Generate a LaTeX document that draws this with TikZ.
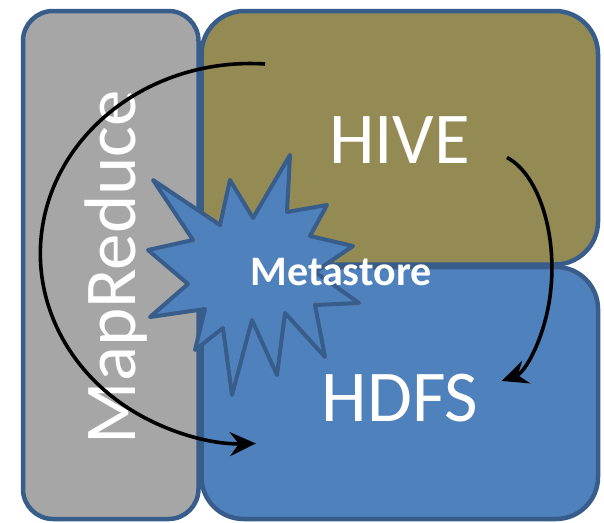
\documentclass[tikz,border=0pt]{standalone}
\usepackage{fontspec}
\setmainfont{Carlito}
\usetikzlibrary{arrows.meta}
\definecolor{mrgray}{HTML}{A6A6A6}
\definecolor{hiveolive}{HTML}{948A54}
\definecolor{hdfsblue}{HTML}{4F81BD}
\definecolor{edgeblue}{HTML}{385D8A}
\tikzset{
  panel/.style={draw=edgeblue, line width=4.5pt, inner sep=0pt, outer sep=0pt, rectangle},
  bigtext/.style={text=white, font=\fontsize{73}{73}\selectfont, inner sep=0pt, anchor=base},
  flow/.style={draw=black, line width=3.6pt, -{Stealth[length=26pt,width=24pt,inset=9pt]}},
}
\begin{document}
\begin{tikzpicture}[x=1pt,y=-1pt]
\useasboundingbox (0,0) rectangle (604,522);
% the three layers
\node[panel, fill=mrgray, rounded corners=30pt, minimum width=175.5pt, minimum height=508pt]
  (mr) at (110.75,265) {};
\node[panel, fill=hiveolive, rounded corners=43pt, minimum width=396.5pt, minimum height=253.5pt]
  (hive) at (399.75,137.75) {};
\node[panel, fill=hdfsblue, rounded corners=42pt, minimum width=396.5pt, minimum height=252pt]
  (hdfs) at (399.75,393) {};
% layer labels
\node[bigtext] (hivelbl) at (399.5,163) {HIVE};
\node[bigtext] (hdfslbl) at (400,421) {HDFS};
\node[bigtext, rotate=90] (mrlbl) at (135,267) {MapReduce};
% metastore burst
\draw[draw=edgeblue, fill=hdfsblue, line width=4pt, line join=round]
  (153,180) -- (220,225) -- (230,180) -- (253,218) -- (290,155) -- (287,212)
  -- (327,205) -- (310,236) -- (353,246) -- (315,272) -- (359,303) -- (315,305)
  -- (325,357) -- (285,313) -- (277,375) -- (252,320) -- (232,395) -- (223,328)
  -- (195,350) -- (205,309) -- (150,317) -- (188,284) -- (148,250) -- (193,240)
  -- cycle;
\node[text=white, font=\bfseries\fontsize{42}{42}\selectfont, inner sep=0pt, anchor=base]
  (meta) at (341,285) {Metastore};
% flow arrows
\coordinate (leftstart) at (265,64);
\coordinate (rightstart) at (507,157.5);
\draw[flow] (leftstart) arc[start angle=86, end angle=271.5, x radius=210pt, y radius=190pt];
\draw[flow] (rightstart) arc[start angle=74, end angle=-79, x radius=62pt, y radius=115pt];
\end{tikzpicture}
\end{document}
